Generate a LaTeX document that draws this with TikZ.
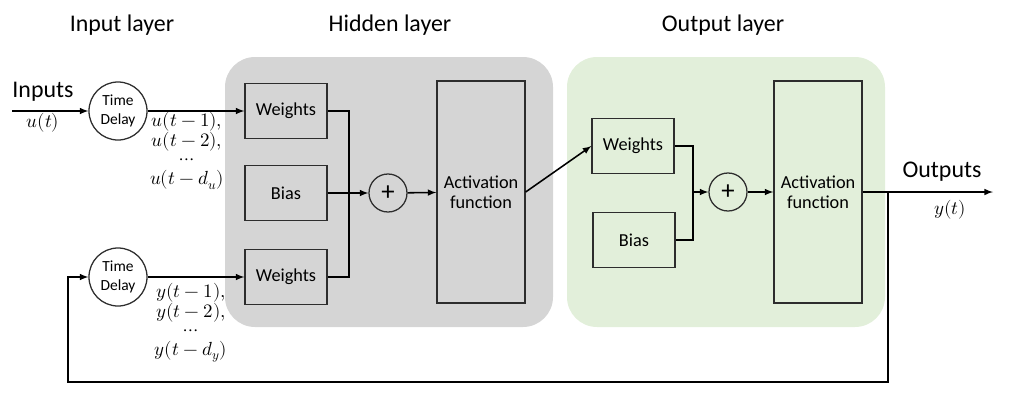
\documentclass[tikz,border=0pt]{standalone}
\usepackage{fontspec}
\usepackage{unicode-math}
\setmainfont{Carlito}
\setmathfont{Latin Modern Math}
\usepackage{tikz}
\usetikzlibrary{positioning}
\definecolor{hiddengray}{RGB}{213,213,213}
\definecolor{outgreen}{RGB}{226,239,218}
\definecolor{edgegray}{RGB}{45,45,45}

\tikzset{
  box/.style={draw=edgegray, line width=0.9pt, minimum width=2.05cm, minimum height=1.375cm,
    inner sep=0pt, font=\fontsize{13}{15}\selectfont},
  actbox/.style={box, minimum width=2.2cm, minimum height=5.55cm, align=center,
    font=\fontsize{13}{14}\selectfont},
  delay/.style={circle, draw=edgegray, line width=0.9pt, minimum size=1.45cm, inner sep=0pt,
    align=center, font=\fontsize{11}{14}\selectfont},
  sum/.style={circle, draw=edgegray, line width=0.9pt, minimum size=0.95cm, inner sep=0pt,
    font=\fontsize{19}{20}\selectfont},
  layertitle/.style={font=\fontsize{17}{20}\selectfont},
  mathlbl/.style={font=\fontsize{13.5}{14}\selectfont, align=center, inner sep=0pt},
  wire/.style={line width=1.1pt},
  >=latex
}

\begin{document}
\begin{tikzpicture}[x=0.025cm, y=-0.025cm]
    \useasboundingbox (0,0) rectangle (1020,403);

    % Layer backgrounds
    \fill[hiddengray, rounded corners=0.75cm] (225,57) rectangle (553,327);
    \fill[outgreen, rounded corners=0.75cm] (567,57) rectangle (885,327);

    % Titles
    \node[layertitle] (tin) at (122,25) {Input layer};
    \node[layertitle] (thid) at (390,25) {Hidden layer};
    \node[layertitle] (tout) at (723,25) {Output layer};

    % Input layer
    \node[layertitle] (inputs) at (43,92) {Inputs};
    \node[mathlbl] (ut) at (43,123) {$u(t)$};
    \coordinate (inl) at (12,111);
    \node[delay] (tdu) at (118,111) {Time\\Delay};
    \node[delay] (tdy) at (118,277) {Time\\Delay};
    \node[mathlbl] (ulags) at (187,151) {$u(t-1),$\\[0pt]$u(t-2),$\\[-1pt]$\cdots$\\[0pt]$u(t-d_u)$};
    \node[mathlbl] (ylags) at (191,323) {$y(t-1),$\\[0pt]$y(t-2),$\\[-1pt]$\cdots$\\[0pt]$y(t-d_y)$};

    % Hidden layer
    \node[box] (hw1) at (286,111) {Weights};
    \node[box] (hb) at (286,193) {Bias};
    \node[box] (hw2) at (286,277) {Weights};
    \node[sum] (hplus) at (388,193) {+};
    \node[actbox] (hact) at (481,192) {Activation\\function};
    \coordinate (hj) at (349,193);

    % Output layer
    \node[box] (ow) at (633,146) {Weights};
    \node[box] (ob) at (634,240) {Bias};
    \node[sum] (oplus) at (728,192) {+};
    \node[actbox] (oact) at (818,192) {Activation\\function};
    \coordinate (oj) at (693,192);

    % Outputs
    \node[layertitle] (outputs) at (942,172) {Outputs};
    \node[mathlbl] (yt) at (950,210) {$y(t)$};
    \coordinate (outr) at (993,192);
    \coordinate (obr) at (888,192);
    \coordinate (fb) at (888,382);
    \coordinate (fbl) at (68,382);

    % Connections
    \draw[wire, ->] (inl) -- (tdu);
    \draw[wire, ->] (tdu) -- (hw1);
    \draw[wire, ->] (tdy) -- (hw2);
    \draw[wire] (hw1.east) -| (hj) |- (hw2.east);
    \draw[wire, ->] (hb) -- (hplus);
    \draw[wire, ->] (hplus) -- (hact);
    \draw[wire, ->] (hact.east) -- (ow.west);
    \draw[wire] (ow.east) -| (oj) |- (ob.east);
    \draw[wire, ->] (oj) -- (oplus);
    \draw[wire, ->] (oplus) -- (oact);
    \draw[wire, ->] (oact.east) -- (outr);
    \draw[wire, ->] (obr) -- (fb) -- (fbl) |- (tdy.west);
\end{tikzpicture}
\end{document}
